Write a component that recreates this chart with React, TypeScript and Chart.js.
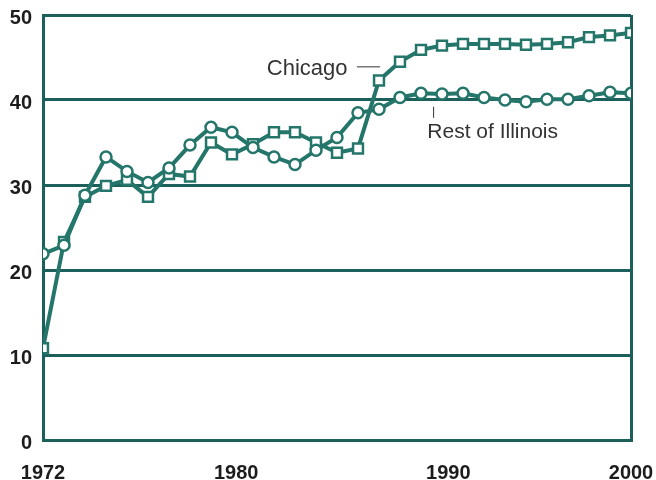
import React, { useEffect, useRef } from "react";
import { Chart, registerables } from "chart.js";

Chart.register(...registerables);

const years = [
  1972, 1973, 1974, 1975, 1976, 1977, 1978, 1979, 1980, 1981,
  1982, 1983, 1984, 1985, 1986, 1987, 1988, 1989, 1990, 1991,
  1992, 1993, 1994, 1995, 1996, 1997, 1998, 1999, 2000,
];

const chicago = [
  10.8, 23.3, 28.6, 29.9, 30.6, 28.6, 31.3, 31.0, 35.0, 33.6,
  34.8, 36.2, 36.2, 35.0, 33.8, 34.3, 42.3, 44.5, 45.9, 46.4,
  46.6, 46.6, 46.6, 46.5, 46.6, 46.8, 47.4, 47.6, 47.9,
];

const restOfIllinois = [
  21.9, 22.9, 28.8, 33.3, 31.6, 30.3, 32.0, 34.7, 36.8, 36.2,
  34.4, 33.3, 32.4, 34.1, 35.6, 38.5, 38.9, 40.3, 40.8, 40.7,
  40.8, 40.3, 40.0, 39.8, 40.1, 40.1, 40.5, 40.9, 40.8,
];

const yTickValues = [0, 10, 20, 30, 40, 50];
const xTickLabels = ["1972", "1980", "1990", "2000"];
// where the printed year labels sit along the year scale in the original
const xTickPlaces = [1972, 1981.2, 1991.3, 2000];

const seriesNames = ["Rest of Illinois", "Chicago"];

const LINE = "#24756a";
const GRID = "#1d5f5a";
const TEXT = "#1c1c1c";
const NOTE = "#333333";
const CLEAR = "rgba(0,0,0,0)";

const annotationPlugin = {
  id: "notes",
  afterDatasetsDraw(chart: any) {
    const { ctx, scales } = chart;
    const x = scales.x;
    const y = scales.y;
    ctx.save();
    ctx.fillStyle = NOTE;
    ctx.strokeStyle = NOTE;
    ctx.lineWidth = 1;
    // Chicago label
    ctx.font = "22px 'Liberation Sans', Arial, sans-serif";
    ctx.textAlign = "right";
    ctx.textBaseline = "middle";
    ctx.fillText(seriesNames[1], x.getPixelForValue(1986.5), y.getPixelForValue(43.7));
    ctx.beginPath();
    ctx.moveTo(x.getPixelForValue(1986.95), y.getPixelForValue(43.9));
    ctx.lineTo(x.getPixelForValue(1988.05), y.getPixelForValue(43.9));
    ctx.stroke();
    // Rest of Illinois label
    ctx.font = "21px 'Liberation Sans', Arial, sans-serif";
    ctx.textAlign = "left";
    ctx.textBaseline = "alphabetic";
    ctx.fillText(seriesNames[0], x.getPixelForValue(1990.3), y.getPixelForValue(35.5));
    ctx.beginPath();
    ctx.moveTo(x.getPixelForValue(1990.6), y.getPixelForValue(39.2));
    ctx.lineTo(x.getPixelForValue(1990.6), y.getPixelForValue(37.9));
    ctx.stroke();
    ctx.restore();
  },
};

export default function App() {
  const ref = useRef<HTMLCanvasElement>(null);

  useEffect(() => {
    if (!ref.current) return;
    const chart = new Chart(ref.current, {
      type: "line",
      data: {
        datasets: [
          {
            label: seriesNames[0],
            data: years.map((yr, i) => ({ x: yr, y: restOfIllinois[i] })),
            borderColor: LINE,
            borderWidth: 4,
            pointStyle: "circle",
            pointRadius: 5.5,
            pointBorderWidth: 2.5,
            pointBorderColor: LINE,
            pointBackgroundColor: "#ffffff",
            tension: 0,
          },
          {
            label: seriesNames[1],
            data: years.map((yr, i) => ({ x: yr, y: chicago[i] })),
            borderColor: LINE,
            borderWidth: 4,
            pointStyle: "rect",
            pointRadius: 7,
            pointBorderWidth: 2.5,
            pointBorderColor: LINE,
            pointBackgroundColor: "#ffffff",
            tension: 0,
          },
        ],
      },
      options: {
        animation: false,
        responsive: false,
        layout: { padding: { top: 15, right: 25, left: 0, bottom: 0 } },
        plugins: {
          legend: { display: false },
          tooltip: { enabled: false },
        },
        scales: {
          x: {
            type: "linear",
            min: 1972,
            max: 2000,
            afterBuildTicks: (axis: any) => {
              axis.ticks = xTickPlaces.map((v) => ({ value: v }));
            },
            afterFit: (axis: any) => {
              axis.height = 40;
            },
            ticks: {
              autoSkip: false,
              maxRotation: 0,
              padding: 0,
              color: TEXT,
              font: { family: "'Liberation Sans', Arial, sans-serif", size: 20, weight: "bold" },
              callback: (_v: any, i: number) => xTickLabels[i],
            },
            grid: {
              drawTicks: true,
              tickLength: 21,
              tickColor: CLEAR,
              lineWidth: 3,
              color: (c: any) => (c.index === xTickPlaces.length - 1 ? GRID : CLEAR),
            },
            border: { display: true, color: GRID, width: 3 },
          },
          y: {
            type: "linear",
            min: 0,
            max: 50,
            afterBuildTicks: (axis: any) => {
              axis.ticks = yTickValues.map((v) => ({ value: v }));
            },
            afterFit: (axis: any) => {
              axis.width = 43;
            },
            ticks: {
              padding: 0,
              labelOffset: 3,
              color: TEXT,
              font: { family: "'Liberation Sans', Arial, sans-serif", size: 20, weight: "bold" },
            },
            grid: { drawTicks: true, tickLength: 11, tickColor: CLEAR, lineWidth: 3, color: GRID },
            border: { display: true, color: GRID, width: 3 },
          },
        },
      },
      plugins: [annotationPlugin],
    });
    return () => chart.destroy();
  }, []);

  return (
    <div style={{ position: "fixed", left: 0, top: 0, width: 656, height: 480, background: "#fff" }}>
      <canvas ref={ref} width={656} height={480} style={{ display: "block" }} />
    </div>
  );
}
